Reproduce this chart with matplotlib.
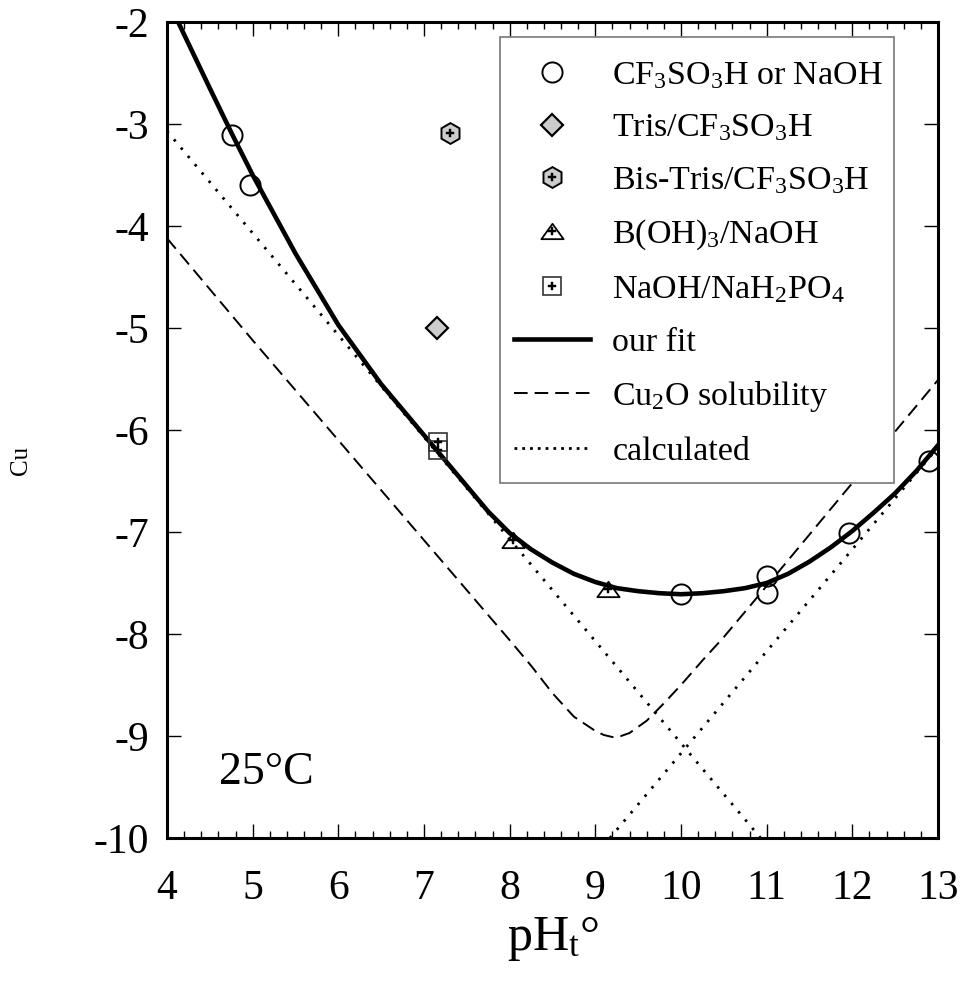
import numpy as np
import matplotlib.pyplot as plt
from matplotlib.legend_handler import HandlerTuple
from matplotlib.lines import Line2D
from matplotlib.patches import Rectangle
from matplotlib.path import Path

plt.rcParams['font.family'] = ['Liberation Serif', 'DejaVu Serif']
plt.rcParams['mathtext.fontset'] = 'custom'
plt.rcParams['mathtext.rm'] = 'Liberation Serif'
plt.rcParams['mathtext.it'] = 'Liberation Serif:italic'
plt.rcParams['mathtext.bf'] = 'Liberation Serif:bold'
plt.rcParams['axes.unicode_minus'] = False

# measured points
ph_acid = [4.76, 4.97, 10.0, 11.0, 11.0, 11.96, 12.9]
cu_acid = [-3.11, -3.60, -7.61, -7.43, -7.60, -7.01, -6.30]
ph_tris = [7.15]
cu_tris = [-5.00]
ph_bistris = [7.30]
cu_bistris = [-3.09]
ph_borate = [8.04, 9.15]
cu_borate = [-7.08, -7.56]
ph_phos = [7.16, 7.16]
cu_phos = [-6.12, -6.20]

# curves
ph_fit = [4.13, 4.5, 4.76, 5.0, 5.5, 6.0, 6.5, 7.0, 7.5, 7.75, 8.0, 8.25, 8.5, 8.75, 9.0,
          9.25, 9.5, 9.75, 10.0, 10.25, 10.5, 10.75, 11.0, 11.25, 11.5, 11.75,
          12.0, 12.25, 12.5, 12.75, 13.0]
cu_fit = [-2.0, -2.65, -3.10, -3.50, -4.27, -4.97, -5.55, -6.05, -6.55, -6.80, -7.01, -7.17,
          -7.30, -7.41, -7.49, -7.55, -7.58, -7.60, -7.61, -7.60, -7.58, -7.55, -7.50,
          -7.41, -7.29, -7.15, -6.99, -6.81, -6.62, -6.40, -6.15]

ph_cu2o = [4.0, 5.0, 6.0, 7.0, 7.5, 8.0, 8.25, 8.5, 8.75, 9.0, 9.1, 9.2, 9.3, 9.4,
           9.6, 9.8, 10.0, 10.25, 10.5, 11.0, 12.0, 13.0]
cu_cu2o = [-4.12, -5.12, -6.10, -7.08, -7.57, -8.06, -8.31, -8.58, -8.81, -8.95,
           -8.99, -9.01, -9.00, -8.97, -8.85, -8.68, -8.50, -8.26, -8.03, -7.53,
           -6.52, -5.51]

ph_calc_a = [4.0, 10.93]
cu_calc_a = [-3.07, -10.0]
ph_calc_b = [9.17, 13.0]
cu_calc_b = [-10.0, -6.17]

fig = plt.figure(figsize=(9.63, 9.85), dpi=100)
ax = fig.add_axes([0.1734, 0.1492, 0.8006, 0.8285])

dash_cu2o = (0, (7, 3.6))
dot_calc = (0, (0.9, 3.0))
ax.plot(ph_fit, cu_fit, color='black', lw=3.3, zorder=3)
ax.plot(ph_cu2o, cu_cu2o, color='black', lw=1.4, linestyle=dash_cu2o, zorder=2)
ax.plot(ph_calc_a, cu_calc_a, color='black', lw=2.0, linestyle=dot_calc, zorder=2)
ax.plot(ph_calc_b, cu_calc_b, color='black', lw=2.0, linestyle=dot_calc, zorder=2)

tri = Path([(0, 1), (-1.45, -1), (1.45, -1), (0, 1)],
           [Path.MOVETO, Path.LINETO, Path.LINETO, Path.CLOSEPOLY])
grey = '#cccccc'

h_acid, = ax.plot(ph_acid, cu_acid, 'o', ms=14.5, mfc='none', mec='black', mew=1.4, ls='none', zorder=4)
h_tris, = ax.plot(ph_tris, cu_tris, 'D', ms=11.5, mfc=grey, mec='black', mew=1.6, ls='none', zorder=4)
h_bis, = ax.plot(ph_bistris, cu_bistris, 'h', ms=15, mfc=grey, mec='black', mew=1.4, ls='none', zorder=4)
h_bis2, = ax.plot(ph_bistris, cu_bistris, 'P', ms=6, mfc='black', mec='black', mew=0.3, ls='none', zorder=5)
h_bor, = ax.plot(ph_borate, cu_borate, marker=tri, ms=16, mfc='none', mec='black', mew=1.3, ls='none', zorder=4)
h_bor2, = ax.plot(ph_borate, cu_borate, 'P', ms=6, mfc='black', mec='black', mew=0.3, ls='none', zorder=5)
h_pho, = ax.plot(ph_phos, cu_phos, 's', ms=12.5, mfc='none', mec='#333333', mew=1.2, ls='none', zorder=4)
h_pho2, = ax.plot(ph_phos, cu_phos, 'P', ms=6, mfc='black', mec='black', mew=0.3, ls='none', zorder=5)

l_fit = Line2D([], [], color='black', lw=3.3)
l_cu2o = Line2D([], [], color='black', lw=1.4, linestyle=dash_cu2o)
l_calc = Line2D([], [], color='black', lw=2.0, linestyle=(0, (1, 1.8)))

# legend frame drawn separately so the vertical padding can be larger than the side padding
frame = Rectangle((0.432, 0.435), 0.511, 0.547, transform=ax.transAxes,
                  facecolor='white', edgecolor='#777777', lw=1.2, zorder=5.5)
ax.add_patch(frame)

handles = [h_acid, h_tris, (h_bis, h_bis2), (h_bor, h_bor2), (h_pho, h_pho2), l_fit, l_cu2o, l_calc]
labels = ['CF$_3$SO$_3$H or NaOH', 'Tris/CF$_3$SO$_3$H', 'Bis-Tris/CF$_3$SO$_3$H',
          'B(OH)$_3$/NaOH', 'NaOH/NaH$_2$PO$_4$', 'our fit', 'Cu$_2$O solubility', 'calculated']
leg = ax.legend(handles, labels, loc='upper left', bbox_to_anchor=(0.432, 0.970),
                fontsize=24.5, handlelength=2.25, handletextpad=0.65, labelspacing=0.64,
                borderpad=0.4, frameon=False, borderaxespad=0,
                handler_map={tuple: HandlerTuple(ndivide=1, pad=0)})
leg.set_zorder(6)

ax.text(5.16, -9.36, '25°C', fontsize=33, ha='center', va='center')

ax.set_xlim(4, 13)
ax.set_ylim(-10, -2)
ax.set_xticks(np.arange(4, 14, 1))
ax.set_xticks(np.arange(4, 13.01, 0.2), minor=True)
ax.set_yticks(np.arange(-10, -1, 1))
ax.tick_params(axis='both', which='major', direction='in', top=True, right=True,
               length=10, width=1.0, labelsize=30)
ax.tick_params(axis='x', which='major', pad=23)
ax.tick_params(axis='y', which='major', pad=13)
ax.tick_params(axis='x', which='minor', direction='in', top=True, length=5, width=1.0)
for sp in ax.spines.values():
    sp.set_linewidth(2.2)
    sp.set_zorder(7)

ax.set_xlabel('pH$_\\mathrm{t}$°', fontsize=36, labelpad=5)
ax.set_ylabel('Cu', fontsize=18)
ax.yaxis.set_label_coords(-0.175, 0.463)

fig.savefig('out.png', dpi=100)
